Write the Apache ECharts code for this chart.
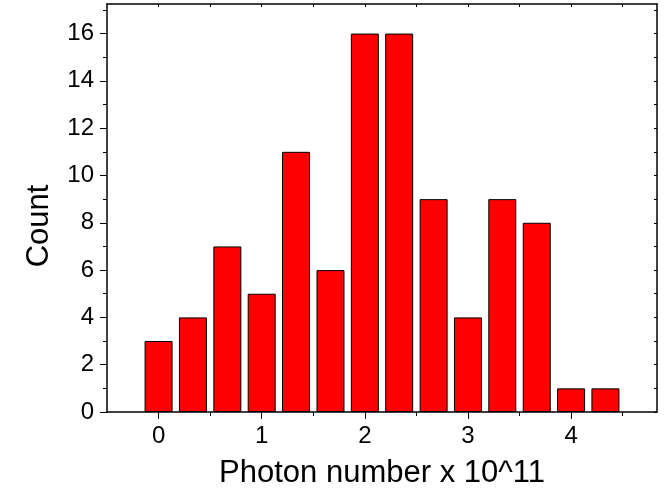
<!DOCTYPE html>
<html><head><meta charset="utf-8">
<script src="https://cdn.jsdelivr.net/npm/echarts@6/dist/echarts.min.js"></script>
<style>html,body{margin:0;padding:0;background:#fff}#c{width:664px;height:497px}</style>
</head><body><div id="c"></div>
<script>
const binCenters = [0, 0.333, 0.667, 1, 1.333, 1.667, 2, 2.333, 2.667, 3, 3.333, 3.667, 4, 4.333];
const counts = [3, 4, 7, 5, 11, 6, 16, 16, 9, 4, 9, 8, 1, 1];
const xTicks = [0, 1, 2, 3, 4];
const xMinor = [0.5, 1.5, 2.5, 3.5, 4.5];
const yTicks = [0, 2, 4, 6, 8, 10, 12, 14, 16];
const yMinor = [1, 3, 5, 7, 9, 11, 13, 15, 17];
const xMin = -0.5, xMax = 4.833, yMin = 0, yMax = 17.25;

const font = 'Liberation Sans, Arial, sans-serif';
const lineW = 1.5;
function ax(extra) { return Object.assign({type: 'value', splitLine: {show: false}}, extra); }
function line(show) { return {show: show, onZero: false, lineStyle: {color: '#000', width: lineW}}; }

const chart = echarts.init(document.getElementById('c'));
chart.setOption({
  animation: false,
  grid: {left: 107, top: 4, right: 7, bottom: 85, containLabel: false},
  xAxis: [
    ax({min: xMin, max: xMax, position: 'bottom', axisLine: line(true),
      axisTick: {show: true, inside: false, length: 7, customValues: xTicks, lineStyle: {color: '#000', width: 1}},
      axisLabel: {customValues: xTicks, color: '#000', fontFamily: font, fontSize: 24, margin: 12},
      name: 'Photon number x 10^11', nameLocation: 'middle', nameGap: 46,
      nameTextStyle: {color: '#000', fontFamily: font, fontSize: 31}}),
    ax({min: xMin, max: xMax, position: 'bottom', axisLine: line(false),
      axisTick: {show: true, inside: false, length: 4, customValues: xMinor, lineStyle: {color: '#000', width: 1}},
      axisLabel: {show: false}}),
    ax({min: xMin, max: xMax, position: 'top', axisLine: line(true),
      axisTick: {show: true, inside: true, length: 3, customValues: xTicks.concat(xMinor), lineStyle: {color: '#000', width: 1}},
      axisLabel: {show: false}})
  ],
  yAxis: [
    ax({min: yMin, max: yMax, position: 'left', axisLine: line(true),
      axisTick: {show: true, inside: false, length: 7, customValues: yTicks, lineStyle: {color: '#000', width: 1}},
      axisLabel: {customValues: yTicks, color: '#000', fontFamily: font, fontSize: 24, margin: 13},
      name: 'Count', nameLocation: 'middle', nameGap: 52, nameRotate: 90,
      nameTextStyle: {color: '#000', fontFamily: font, fontSize: 31, padding: [0, 36, 0, 0]}}),
    ax({min: yMin, max: yMax, position: 'left', axisLine: line(false),
      axisTick: {show: true, inside: false, length: 4, customValues: yMinor, lineStyle: {color: '#000', width: 1}},
      axisLabel: {show: false}}),
    ax({min: yMin, max: yMax, position: 'right', axisLine: line(true),
      axisTick: {show: true, inside: true, length: 3, customValues: yTicks.concat(yMinor), lineStyle: {color: '#000', width: 1}},
      axisLabel: {show: false}})
  ],
  series: [{
    type: 'bar', xAxisIndex: 0, yAxisIndex: 0, barWidth: 28,
    data: binCenters.map((x, i) => [x, counts[i]]),
    itemStyle: {color: '#ff0000', borderColor: '#000', borderWidth: 1}
  }]
});
</script></body></html>
